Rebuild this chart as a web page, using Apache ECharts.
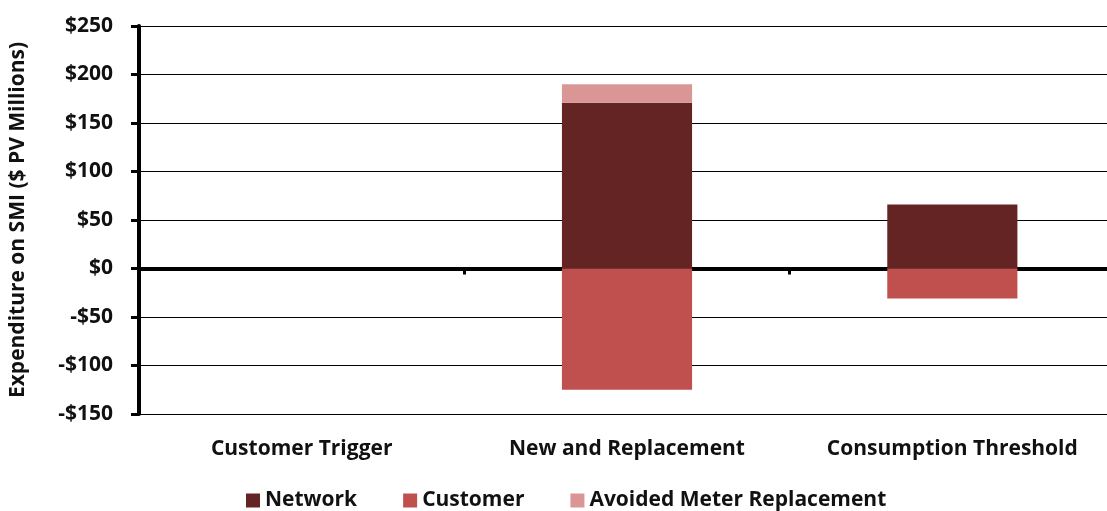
<!DOCTYPE html>
<html>
<head>
<meta charset="utf-8">
<script src="https://cdn.jsdelivr.net/npm/echarts@6/dist/echarts.min.js"></script>
<style>
  html, body { margin: 0; padding: 0; background: #fff; overflow: hidden; }
  /* the plot area runs a few pixels past the right edge of the window */
  #chart { width: 1115px; height: 511px; }
</style>
</head>
<body>
<div id="chart"></div>
<script>
// Expenditure on SMI by rollout scenario ($ PV millions)
const categories = ['Customer Trigger', 'New and Replacement', 'Consumption Threshold'];
const network = [0, 171, 66];
const customer = [0, -125, -31];
const avoidedMeter = [0, 19, 0];
const yTicks = { min: -150, max: 250, interval: 50 };

const FONT = '"Open Sans"';
const FONT_SIZE = 21;
const chart = echarts.init(document.getElementById('chart'));

chart.setOption({
  animation: false,
  backgroundColor: '#ffffff',
  textStyle: { fontFamily: FONT },
  grid: { left: 138, right: 0, top: 26, bottom: 97, containLabel: false },
  legend: {
    bottom: 0,
    left: 246,
    padding: 0,
    itemWidth: 14,
    itemHeight: 14,
    itemGap: 46,
    icon: 'rect',
    textStyle: { fontFamily: FONT, fontWeight: 'bold', fontSize: FONT_SIZE, color: '#111' },
    data: ['Network', 'Customer', 'Avoided Meter Replacement']
  },
  xAxis: [
    {
      // axis line drawn through $0 with category separators
      type: 'category',
      data: categories,
      axisLine: { show: true, onZero: true, lineStyle: { color: '#000', width: 4 } },
      axisTick: { show: true, interval: 0, length: 6, lineStyle: { color: '#000', width: 3 } },
      axisLabel: { show: false },
      splitLine: { show: false }
    },
    {
      // category labels along the bottom of the plot
      type: 'category',
      data: categories,
      position: 'bottom',
      axisLine: { show: false, onZero: false },
      axisTick: { show: false },
      axisLabel: {
        show: true,
        interval: 0,
        margin: 25,
        fontFamily: FONT,
        fontWeight: 'bold',
        fontSize: FONT_SIZE,
        color: '#111'
      }
    }
  ],
  yAxis: {
    type: 'value',
    min: yTicks.min,
    max: yTicks.max,
    interval: yTicks.interval,
    name: 'Expenditure on SMI ($ PV Millions)',
    nameLocation: 'middle',
    nameGap: 110,
    nameRotate: 90,
    nameTextStyle: { fontFamily: FONT, fontWeight: 'bold', fontSize: FONT_SIZE, color: '#111' },
    axisLine: { show: true, lineStyle: { color: '#000', width: 4 } },
    axisTick: { show: true, length: 8, lineStyle: { color: '#000', width: 3 } },
    axisLabel: {
      margin: 26,
      fontFamily: FONT,
      fontWeight: 'bold',
      fontSize: FONT_SIZE,
      color: '#111',
      formatter: v => (v < 0 ? '-$' + Math.abs(v) : '$' + v)
    },
    splitLine: { show: true, lineStyle: { color: '#000', width: 1 } }
  },
  series: [
    {
      name: 'Network',
      type: 'bar',
      stack: 'total',
      barWidth: '40%',
      xAxisIndex: 0,
      itemStyle: { color: '#632423' },
      data: network,
      z: 1
    },
    {
      name: 'Customer',
      type: 'bar',
      stack: 'total',
      barWidth: '40%',
      xAxisIndex: 0,
      itemStyle: { color: '#C0504D' },
      data: customer,
      z: 1
    },
    {
      name: 'Avoided Meter Replacement',
      type: 'bar',
      stack: 'total',
      barWidth: '40%',
      xAxisIndex: 0,
      itemStyle: { color: '#D99694' },
      data: avoidedMeter,
      z: 1
    }
  ]
});
</script>
</body>
</html>
